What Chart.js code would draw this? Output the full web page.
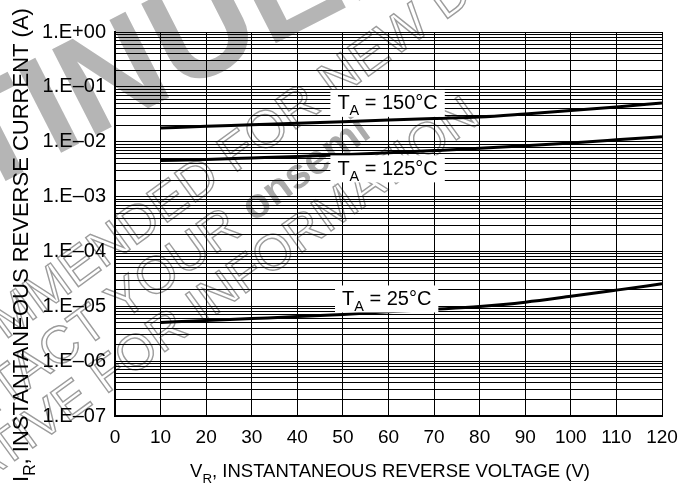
<!DOCTYPE html>
<html><head><meta charset="utf-8">
<script src="https://cdn.jsdelivr.net/npm/chart.js@4.4.1/dist/chart.umd.min.js"></script>
<style>html,body{margin:0;padding:0;background:#fff;}#wrap{width:682px;height:491px;}</style>
</head><body><div id="wrap"><canvas id="c" width="682" height="491"></canvas></div>
<script>
const voltage    = [10, 20, 30, 40, 50, 60, 70, 80, 90, 100, 110, 120];
const current150 = [0.0178, 0.0191, 0.0203, 0.0217, 0.0232, 0.0248, 0.0265, 0.0283, 0.0321, 0.0369, 0.0430, 0.0509];
const current125 = [0.00453, 0.00476, 0.00505, 0.00537, 0.00580, 0.00630, 0.00689, 0.00758, 0.00846, 0.00951, 0.01083, 0.01238];
const current25  = [5.07e-6, 5.49e-6, 5.97e-6, 6.49e-6, 7.12e-6, 7.91e-6, 8.82e-6, 9.96e-6, 1.19e-5, 1.52e-5, 1.97e-5, 2.57e-5];
const xTickLabels = ['0','10','20','30','40','50','60','70','80','90','100','110','120'];
const yDecades    = [1, 1e-1, 1e-2, 1e-3, 1e-4, 1e-5, 1e-6, 1e-7];
const yTickLabels = ['1.E+00','1.E\u201301','1.E\u201302','1.E\u201303','1.E\u201304','1.E\u201305','1.E\u201306','1.E\u201307'];
const curveNames  = ['150\u00B0C', '125\u00B0C', '25\u00B0C'];

const FONT = '"Liberation Sans", Arial, Helvetica, sans-serif';

function subText(ctx, x, y, main, sub, rest, size, align) {
  ctx.font = size + 'px ' + FONT;
  const w1 = ctx.measureText(main).width;
  const w3 = ctx.measureText(rest).width;
  ctx.font = (size * 0.72) + 'px ' + FONT;
  const w2 = ctx.measureText(sub).width;
  const total = w1 + w2 + w3;
  let x0 = align === 'center' ? x - total / 2 : x;
  ctx.textAlign = 'left';
  ctx.textBaseline = 'alphabetic';
  ctx.font = size + 'px ' + FONT;
  ctx.fillText(main, x0, y);
  ctx.font = (size * 0.72) + 'px ' + FONT;
  ctx.fillText(sub, x0 + w1, y + size * 0.3);
  ctx.font = size + 'px ' + FONT;
  ctx.fillText(rest, x0 + w1 + w2, y);
  return total;
}

const watermark = {
  id: 'watermark',
  beforeDraw(chart) {
    const ctx = chart.ctx;
    ctx.save();
    ctx.fillStyle = '#fff';
    ctx.fillRect(0, 0, chart.width, chart.height);
    function place(prefix, word, full, cx, cy, font, mode, color, deg) {
      ctx.save();
      ctx.translate(cx, cy);
      ctx.rotate(deg * Math.PI / 180);
      ctx.textBaseline = 'middle';
      ctx.textAlign = 'left';
      ctx.font = font;
      const x0 = -(ctx.measureText(prefix).width + ctx.measureText(word).width / 2);
      if (mode === 'fill') { ctx.fillStyle = color; ctx.fillText(full, x0, 0); }
      else { ctx.strokeStyle = color; ctx.lineWidth = 1.4; ctx.strokeText(full, x0, 0); }
      ctx.restore();
    }
    place('DISCONTIN', 'U', 'DISCONTINUED', 205, 36, 'bold 140px ' + FONT, 'fill', '#b5b5b5', -27);
    place('NOT RECOMMENDED ', 'FOR', 'NOT RECOMMENDED FOR NEW DESIGN', 270, 130, '52px ' + FONT, 'stroke', '#9c9c9c', -36);
    // onsemi (bold, filled) preceded by outlined "CONTACT YOUR "
    ctx.save();
    ctx.translate(298, 176);
    ctx.rotate(-36 * Math.PI / 180);
    ctx.textBaseline = 'middle';
    ctx.textAlign = 'left';
    ctx.font = 'bold 42px ' + FONT;
    const pre = ctx.measureText('on').width + ctx.measureText('s').width / 2;
    ctx.fillStyle = '#ababab';
    ctx.fillText('onsemi', -pre, 0);
    ctx.font = '52px ' + FONT;
    const cw = ctx.measureText('CONTACT YOUR ').width;
    ctx.strokeStyle = '#9c9c9c';
    ctx.lineWidth = 1.4;
    ctx.strokeText('CONTACT YOUR ', -pre - cw, 0);
    ctx.restore();
    place('REPRESENTATIVE FOR ', 'INFORMATION', 'REPRESENTATIVE FOR INFORMATION', 334, 212, '50px ' + FONT, 'stroke', '#9c9c9c', -36);
    ctx.restore();
  }
};

const annotations = {
  id: 'annotations',
  afterDatasetsDraw(chart) {
    const ctx = chart.ctx;
    const xs = chart.scales.x, ys = chart.scales.y;
    const spots = [
      { name: curveNames[0], x: 59.8, y: 0.05 },
      { name: curveNames[1], x: 59.8, y: 0.0032 },
      { name: curveNames[2], x: 59.6, y: 1.36e-5 }
    ];
    ctx.save();
    spots.forEach(s => {
      const px = xs.getPixelForValue(s.x);
      const py = ys.getPixelForValue(s.y);
      ctx.font = '20px ' + FONT;
      const w = ctx.measureText('T = ' + s.name).width + 20 * 0.72 * 0.667;
      const bw = w + 14, bh = 27;
      ctx.fillStyle = '#fff';
      ctx.fillRect(px - bw / 2, py - bh / 2, bw, bh);
      ctx.fillStyle = '#000';
      subText(ctx, px, py + 6, 'T', 'A', ' = ' + s.name, 20, 'center');
    });
    ctx.restore();
  },
  afterDraw(chart) {
    const ctx = chart.ctx;
    ctx.save();
    ctx.fillStyle = '#000';
    subText(ctx, 390, 477, 'V', 'R', ', INSTANTANEOUS REVERSE VOLTAGE (V)', 18.5, 'center');
    ctx.translate(28, 245);
    ctx.rotate(-Math.PI / 2);
    subText(ctx, 0, 0, 'I', 'R', ', INSTANTANEOUS REVERSE CURRENT (A)', 22, 'center');
    ctx.restore();
  }
};

function series(vals) { return voltage.map((v, i) => ({ x: v, y: vals[i] })); }
const lineStyle = { borderColor: '#000', borderWidth: 3, pointRadius: 0, fill: false, tension: 0.4, cubicInterpolationMode: 'monotone' };

new Chart(document.getElementById('c'), {
  type: 'line',
  data: {
    datasets: [
      Object.assign({ label: curveNames[0], data: series(current150) }, lineStyle),
      Object.assign({ label: curveNames[1], data: series(current125) }, lineStyle),
      Object.assign({ label: curveNames[2], data: series(current25) }, lineStyle)
    ]
  },
  options: {
    responsive: false,
    animation: false,
    devicePixelRatio: 1,
    layout: { padding: { left: 0, top: 32, right: 20, bottom: 0 } },
    plugins: { legend: { display: false }, tooltip: { enabled: false } },
    scales: {
      x: {
        type: 'linear', min: 0, max: 120,
        afterFit(s) { s.height = 75; s.paddingRight = 0; s.paddingLeft = 0; },
        ticks: { stepSize: 10, autoSkip: false, maxRotation: 0, padding: 10, color: '#000',
          font: { size: 19, family: FONT },
          callback: (v, i) => xTickLabels[i] },
        grid: { color: '#000', lineWidth: 1, drawTicks: false },
        border: { display: true, color: '#000', width: 2 }
      },
      y: {
        type: 'logarithmic', min: 1e-7, max: 1,
        afterFit(s) { s.width = 115; },
        afterBuildTicks(s) {
          const t = [];
          for (let i = yDecades.length - 1; i >= 1; i--) {
            for (let m = 1; m <= 9; m++) t.push({ value: m * yDecades[i] });
          }
          t.push({ value: yDecades[0] });
          s.ticks = t;
        },
        ticks: { autoSkip: false, padding: 9, color: '#000', font: { size: 20, family: FONT },
          callback: (v) => { const k = yDecades.findIndex(d => Math.abs(v / d - 1) < 1e-6); return k >= 0 ? yTickLabels[k] : ''; } },
        grid: { color: '#000', lineWidth: 1, drawTicks: false },
        border: { display: true, color: '#000', width: 2 }
      }
    }
  },
  plugins: [watermark, annotations]
});
</script>
</body></html>
